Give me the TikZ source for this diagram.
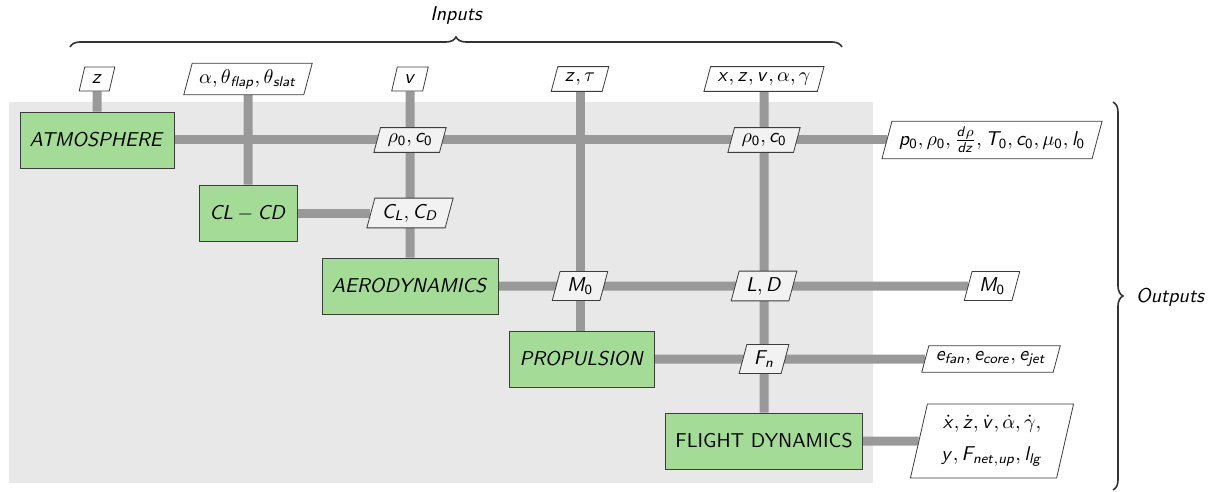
\documentclass[tikz,border=0pt]{standalone}
\usetikzlibrary{shapes.geometric,decorations.pathreplacing,backgrounds}
\DeclareSymbolFont{sfit}{OT1}{cmss}{m}{sl}
\DeclareSymbolFont{sfup}{OT1}{cmss}{m}{n}
\newcommand\sfl[1]{\DeclareMathSymbol{#1}{\mathalpha}{sfit}{`#1}}
\newcommand\sfd[1]{\DeclareMathSymbol{#1}{\mathalpha}{sfup}{`#1}}
\sfl a\sfl b\sfl c\sfl d\sfl e\sfl f\sfl g\sfl h\sfl i\sfl j\sfl k\sfl l\sfl m
\sfl n\sfl o\sfl p\sfl q\sfl r\sfl s\sfl t\sfl u\sfl v\sfl w\sfl x\sfl y\sfl z
\sfl A\sfl B\sfl C\sfl D\sfl E\sfl F\sfl G\sfl H\sfl I\sfl J\sfl K\sfl L\sfl M
\sfl N\sfl O\sfl P\sfl Q\sfl R\sfl S\sfl T\sfl U\sfl V\sfl W\sfl X\sfl Y\sfl Z
\sfd 0\sfd 1\sfd 2\sfd 3\sfd 4\sfd 5\sfd 6\sfd 7\sfd 8\sfd 9
\definecolor{compgreen}{RGB}{163,219,151}
\definecolor{bggray}{RGB}{232,232,232}
\definecolor{linegray}{RGB}{153,153,153}
\definecolor{datgray}{RGB}{242,242,242}
\definecolor{edgegray}{RGB}{60,60,60}
\begin{document}
\begin{tikzpicture}[x=0.5pt,y=-0.5pt,
  every node/.style={font=\sffamily},
  comp/.style={draw=edgegray, fill=compgreen, minimum height=28pt, inner sep=0pt},
  dat/.style={trapezium, trapezium left angle=75, trapezium right angle=105, draw=edgegray, fill=white, inner xsep=3.5pt, inner ysep=3pt, minimum height=12pt, trapezium stretches body},
  idat/.style={dat, fill=datgray},
  conn/.style={draw=linegray, line width=4.5pt},
  brc/.style={decorate, decoration={brace, amplitude=5pt}, draw=black!80, line width=0.8pt}
]
\useasboundingbox (0,0) rectangle (1215,492);
% components
\node[comp, minimum width=77pt] (atm) at (97,140) {$ATMOSPHERE$};
\node[comp, minimum width=49pt] (clcd) at (248,213) {$CL-CD$};
\node[comp, minimum width=88pt] (aero) at (410,286) {$AERODYNAMICS$};
\node[comp, minimum width=72.5pt] (prop) at (582,359) {$PROPULSION$};
\node[comp, minimum width=98.5pt] (fd) at (764,441) {FLIGHT DYNAMICS};
% inputs
\node[dat] (z) at (97,79) {$z$};
\node[dat] (alpha) at (248,79) {$\alpha, \theta_{flap}, \theta_{slat}$};
\node[dat] (v) at (410,79) {$v$};
\node[dat] (ztau) at (580,79) {$z, \tau$};
\node[dat] (xz) at (764,79) {$x, z, v, \alpha, \gamma$};
% internal data
\node[idat] (rc1) at (410,140) {$\rho_0, c_0$};
\node[idat] (rc2) at (764,140) {$\rho_0, c_0$};
\node[idat] (cl) at (410,213) {$C_L, C_D$};
\node[idat] (m0) at (580,286) {$M_0$};
\node[idat] (ld) at (764,286) {$L, D$};
\node[idat] (fn) at (764,359) {$F_n$};
% outputs
\node[dat] (pout) at (992,140) {$p_0, \rho_0, \frac{d\rho}{dz}, T_0, c_0, \mu_0, l_0$};
\node[dat] (mout) at (992,286) {$M_0$};
\node[dat] (eout) at (991,359) {$e_{fan}, e_{core}, e_{jet}$};
\node[dat, align=center, inner xsep=7pt, minimum height=37pt] (fdout) at (992,441) {$\dot x, \dot z, \dot v, \dot\alpha, \dot\gamma,$\\[4pt]$y, F_{net,up}, l_{lg}$};
% braces
\coordinate (ib1) at (70,47);
\coordinate (ib2) at (842,47);
\draw[brc] (ib1) -- (ib2);
\node[font=\sffamily\itshape] (inlab) at (456,16) {Inputs};
\coordinate (ob1) at (1113,102);
\coordinate (ob2) at (1113,490);
\draw[brc] (ob1) -- (ob2);
\node[font=\sffamily\itshape] (outlab) at (1170,297) {Outputs};
\begin{pgfonlayer}{background}
\fill[bggray] (9,102) rectangle (873,483);
\draw[conn] (z) -- (atm);
\draw[conn] (alpha) -- (clcd);
\draw[conn] (v) -- (aero);
\draw[conn] (ztau) -- (ztau |- prop);
\draw[conn] (xz) -- (fd);
\draw[conn] (atm) -- (pout);
\draw[conn] (clcd) -- (cl);
\draw[conn] (aero) -- (mout);
\draw[conn] (prop) -- (eout);
\draw[conn] (fd) -- (fdout);
\end{pgfonlayer}
\end{tikzpicture}
\end{document}
